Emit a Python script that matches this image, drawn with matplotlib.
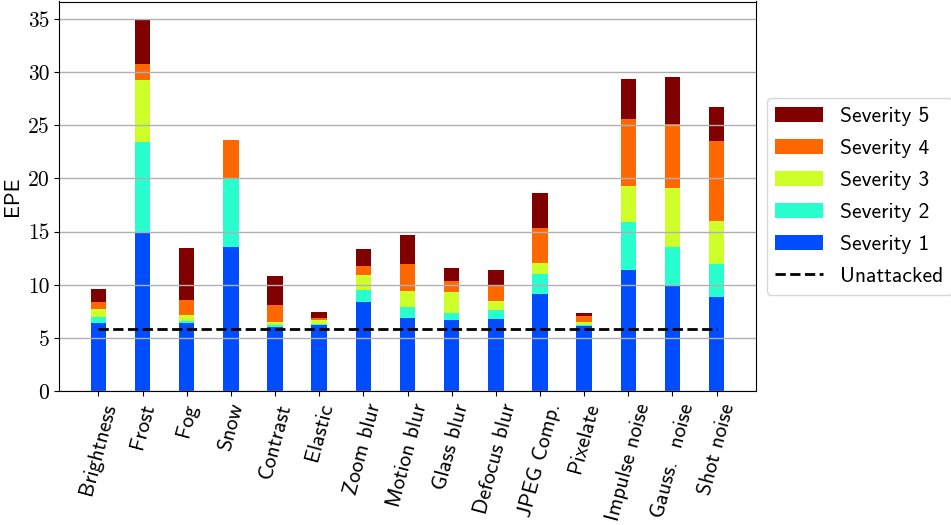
import matplotlib
matplotlib.use("Agg")
import matplotlib.pyplot as plt
import numpy as np

categories = ["Brightness", "Frost", "Fog", "Snow", "Contrast", "Elastic",
              "Zoom blur", "Motion blur", "Glass blur", "Defocus blur",
              "JPEG Comp.", "Pixelate", "Impulse noise", "Gauss.  noise", "Shot noise"]

sev1 = [6.38, 14.95, 6.45, 13.52, 6.03, 6.22, 8.40, 6.85, 6.72, 6.82, 9.18, 6.12, 11.36, 10.00, 8.90]
sev2 = [6.97, 23.40, 6.60, 19.95, 6.22, 6.35, 9.55, 7.90, 7.35, 7.60, 10.98, 6.22, 15.93, 13.57, 11.95]
sev3 = [7.70, 29.28, 7.13, 19.50, 6.53, 6.66, 10.89, 9.40, 9.37, 8.53, 12.05, 6.47, 19.32, 19.13, 16.00]
sev4 = [8.38, 30.78, 8.60, 23.63, 8.13, 6.91, 11.75, 11.93, 10.39, 9.87, 15.34, 7.03, 25.56, 25.09, 23.50]
sev5 = [9.62, 34.88, 13.50, 23.00, 10.83, 7.44, 13.34, 14.72, 11.56, 11.38, 18.64, 7.31, 29.30, 29.52, 26.74]
unattacked = 5.84

severities = [sev1, sev2, sev3, sev4, sev5]
labels = ["Severity 1", "Severity 2", "Severity 3", "Severity 4", "Severity 5"]
cmap = plt.get_cmap("jet")
colors = [cmap(v) for v in (0.2, 0.4, 0.6, 0.8, 1.0)]

plt.rcParams["font.family"] = ["cmss10", "DejaVu Sans"]
plt.rcParams["axes.formatter.use_mathtext"] = True
FS = 15.5

fig = plt.figure(figsize=(9.51, 5.25), dpi=100)
ax = fig.add_axes([59/951, 1 - 391.3/525, (756-59)/951, (391.3-1.5)/525])

x = np.arange(len(categories))
width = 0.35
handles = []
for i in range(4, -1, -1):
    h = ax.bar(x, severities[i], width, color=colors[i], label=labels[i], linewidth=0)
    handles.append(h)
ln = ax.hlines(unattacked, x[0], x[-1], colors="black", linestyles="--", linewidth=2, label="Unattacked", zorder=3)
handles.append(ln)

ax.set_xticks(x)
ax.set_xticklabels(categories, rotation=75, ha="center", fontsize=FS)
ax.set_ylabel("EPE", fontsize=FS)
ax.yaxis.grid(True, color="#b0b0b0", linewidth=1)
ax.set_yticks(np.arange(0, 36, 5))
ax.set_yticklabels([str(v) for v in range(0, 36, 5)], fontfamily="cmr10", fontsize=FS)

ax.legend(handles=handles, loc="center left", bbox_to_anchor=(1.0, 0.5), fontsize=FS,
          labelspacing=0.6, handlelength=2.2)

fig.savefig("out.png", dpi=100)
